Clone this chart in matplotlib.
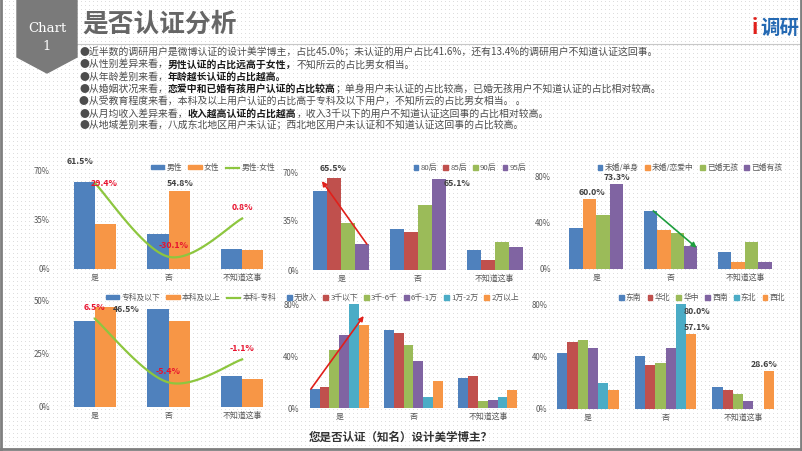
import numpy as np
import matplotlib
matplotlib.use("Agg")
import matplotlib.pyplot as plt
from matplotlib.patches import Patch, Polygon
from matplotlib.lines import Line2D

plt.rcParams['font.family'] = ['Noto Sans CJK SC', 'DejaVu Sans']

W, H = 802, 451
cats = ['是', '否', '不知道这事']

# gender
gender_names = ['男性', '女性', '男性-女性']
male = [61.5, 24.7, 13.8]
female = [32.1, 54.8, 13.1]
gender_diff = [29.4, -30.1, 0.8]

# age
age_names = ['80后', '85后', '90后', '95后']
age_vals = [[56.5, 29.5, 14.0], [65.5, 27.5, 7.0], [33.5, 46.2, 20.3], [18.5, 65.1, 16.4]]

# marriage
marry_names = ['未婚/单身', '未婚/恋爱中', '已婚无孩', '已婚有孩']
marry_vals = [[35.1, 50.0, 14.4], [60.0, 33.3, 6.0], [46.3, 30.7, 23.0], [73.3, 19.8, 6.3]]

# education
edu_names = ['专科及以下', '本科及以上', '本科-专科']
edu_low = [40.0, 45.6, 14.4]
edu_high = [46.5, 40.2, 13.3]
edu_diff = [6.5, -5.4, -1.1]

# income
income_names = ['无收入', '3千以下', '3千-6千', '6千-1万', '1万-2万', '2万以上']
income_vals = [[14.6, 60.2, 22.8], [15.8, 57.9, 24.3], [44.8, 48.2, 5.4],
               [56.4, 36.2, 5.9], [80.0, 8.5, 8.2], [63.8, 20.8, 13.5]]

# region
region_names = ['东南', '华北', '华中', '西南', '东北', '西北']
region_vals = [[42.5, 40.3, 16.6], [51.0, 33.8, 14.3], [52.7, 35.1, 11.5],
               [46.6, 46.4, 6.4], [20.0, 80.0, 0.0], [14.3, 57.1, 28.6]]

bullets = [
    [("●近半数的调研用户是微博认证的设计美学博主，占比45.0%；未认证的用户占比41.6%，还有13.4%的调研用户不知道认证这回事。", False)],
    [("●从性别差异来看，", False), ("男性认证的占比远高于女性，", True), ("不知所云的占比男女相当。", False)],
    [("●从年龄差别来看，", False), ("年龄越长认证的占比越高。", True)],
    [("●从婚姻状况来看，", False), ("恋爱中和已婚有孩用户认证的占比较高", True),
     ("；单身用户未认证的占比较高，已婚无孩用户不知道认证的占比相对较高。", False)],
    [("●从受教育程度来看，本科及以上用户认证的占比高于专科及以下用户，不知所云的占比男女相当。 。", False)],
    [("●从月均收入差异来看，", False), ("收入越高认证的占比越高", True),
     ("，收入3千以下的用户不知道认证这回事的占比相对较高。", False)],
    [("●从地域差别来看，八成东北地区用户未认证；西北地区用户未认证和不知道认证这回事的占比较高。", False)],
]

BLUE, RED, GREEN, PURPLE, AQUA, ORANGE = '#4F81BD', '#C0504D', '#9BBB59', '#8064A2', '#4BACC6', '#F79646'
LINE_GREEN = '#8DC63F'
GRAY = '#595959'

fig = plt.figure(figsize=(W / 100, H / 100), dpi=100)

# dotted background
bg = np.ones((H, W, 3))
bg[1::4, 1::4] = 0.87
fig.figimage(bg, xo=0, yo=0, zorder=-10)


def fx(x):
    return x / W


def fy(y):
    return 1 - y / H


def px_axes(x0, x1, ytop, ybot):
    return fig.add_axes([fx(x0), fy(ybot), (x1 - x0) / W, (ybot - ytop) / H])


def style(ax, ymax, pad):
    ax.set_xlim(-0.5, 2.5)
    ax.set_ylim(0, ymax)
    ticks = [0, ymax / 2, ymax]
    ax.set_yticks(ticks)
    ax.set_yticklabels([f'{t:g}%' for t in ticks])
    ax.set_xticks(range(3))
    ax.set_xticklabels(cats)
    for s in ax.spines.values():
        s.set_visible(False)
    ax.axhline(0, color='#d0d0d0', lw=0.8, zorder=1)
    ax.tick_params(length=0, labelsize=5.7, colors=GRAY)
    ax.tick_params(axis='y', pad=pad)
    ax.tick_params(axis='x', pad=3)
    ax.patch.set_visible(False)


def bars(ax, series, colors, width):
    n = len(series)
    xs = []
    for i, (vals, c) in enumerate(zip(series, colors)):
        x = np.arange(3) + (i - (n - 1) / 2) * width
        ax.bar(x, vals, width, color=c, zorder=2)
        xs.append(x)
    return xs


def lab(ax, x, y, txt, dx, dy, color='#404040'):
    ax.annotate(txt, (x, y), xytext=(dx * 0.72, dy * 0.72), textcoords='offset points',
                ha='center', va='center', fontsize=6.3, fontweight='bold', color=color,
                annotation_clip=False, zorder=5)


def smooth(xs, ys, n=40):
    P = np.column_stack([xs, ys]).astype(float)
    out = []
    for i in range(len(P) - 1):
        p0 = P[i - 1] if i > 0 else P[i]
        p1, p2 = P[i], P[i + 1]
        p3 = P[i + 2] if i + 2 < len(P) else P[i + 1]
        c1 = p1 + (p2 - p0) / 6
        c2 = p2 - (p3 - p1) / 6
        t = np.linspace(0, 1, n)[:, None]
        out.append((1 - t) ** 3 * p1 + 3 * (1 - t) ** 2 * t * c1 + 3 * (1 - t) * t ** 2 * c2 + t ** 3 * p2)
    out = np.vstack(out)
    return out[:, 0], out[:, 1]


def legend(ax, handles, labels, cx, cy, hl, hh):
    ax.legend(handles, labels, ncol=len(labels), loc='center',
              bbox_to_anchor=(fx(cx), fy(cy)), bbox_transform=fig.transFigure,
              frameon=False, fontsize=5.6, handlelength=hl, handleheight=hh,
              handletextpad=0.3, columnspacing=0.8, labelcolor=GRAY, borderaxespad=0)


def arrow(ax, start, end, color):
    ax.annotate('', xy=end, xytext=start,
                arrowprops=dict(arrowstyle='-|>', color=color, lw=1.2, mutation_scale=7,
                                shrinkA=0, shrinkB=0), zorder=6, annotation_clip=False)


# ---------------- chart 1: gender
ax1 = px_axes(58, 279, 170, 269)
style(ax1, 70, 6)
xm, xf = bars(ax1, [male, female], [BLUE, ORANGE], 0.286)
t1 = ax1.twinx()
t1.set_ylim(-40, 40)
t1.axis('off')
sx, sy = smooth(np.arange(3), gender_diff)
t1.plot(sx, sy, color=LINE_GREEN, lw=1.6, zorder=3)
lab(ax1, xm[0], male[0], f'{male[0]:.1f}%', -4, 21)
lab(ax1, xf[1], female[1], f'{female[1]:.1f}%', 1, 8)
for i, (d, dx, dy) in enumerate(zip(gender_diff, [9, 5, 0], [0, 11, 11])):
    lab(t1, i, d, f'{d:.1f}%', dx, dy, '#E8112D')
legend(t1, [Patch(color=BLUE), Patch(color=ORANGE), Line2D([], [], color=LINE_GREEN, lw=1.6)],
       gender_names, 213, 168, 1.7, 0.5)

# ---------------- chart 2: age
ax2 = px_axes(303, 533, 172, 270)
style(ax2, 70, 3)
xa = bars(ax2, age_vals, [BLUE, RED, GREEN, PURPLE], 0.182)
lab(ax2, xa[1][0], age_vals[1][0], f'{age_vals[1][0]:.1f}%', -1, 10)
lab(ax2, xa[3][1], age_vals[3][1], f'{age_vals[3][1]:.1f}%', 18, -5)
arrow(ax2, (xa[3][0] + 0.06, age_vals[3][0]), (xa[0][0] + 0.02, age_vals[1][0] - 2), '#E0201B')
legend(ax2, [Patch(color=c) for c in [BLUE, RED, GREEN, PURPLE]], age_names, 470, 168, 0.6, 0.6)

# ---------------- chart 3: marriage
ax3 = px_axes(559, 782, 176, 269)
style(ax3, 80, 6)
xmr = bars(ax3, marry_vals, [BLUE, ORANGE, GREEN, PURPLE], 0.181)
lab(ax3, xmr[1][0], marry_vals[1][0], f'{marry_vals[1][0]:.1f}%', 2, 7)
lab(ax3, xmr[3][0], marry_vals[3][0], f'{marry_vals[3][0]:.1f}%', 1, 6)
arrow(ax3, (xmr[0][1] + 0.04, marry_vals[0][1]), (xmr[3][1] + 0.08, marry_vals[3][1] - 1.5), '#1E9E3E')
legend(ax3, [Patch(color=c) for c in [BLUE, ORANGE, GREEN, PURPLE]], marry_names, 690, 168, 0.6, 0.6)

# ---------------- chart 4: education
ax4 = px_axes(58, 279, 300, 407)
style(ax4, 50, 6)
xl, xh = bars(ax4, [edu_low, edu_high], [BLUE, ORANGE], 0.286)
t4 = ax4.twinx()
t4.set_ylim(-10, 10)
t4.axis('off')
sx, sy = smooth(np.arange(3), edu_diff)
t4.plot(sx, sy, color=LINE_GREEN, lw=1.6, zorder=3)
lab(ax4, xh[0], edu_high[0], f'{edu_high[0]:.1f}%', 21, -2)
for i, d in enumerate(edu_diff):
    lab(t4, i, d, f'{d:.1f}%', 0, 11, '#E8112D')
legend(t4, [Patch(color=BLUE), Patch(color=ORANGE), Line2D([], [], color=LINE_GREEN, lw=1.6)],
       edu_names, 191, 298, 1.7, 0.5)

# ---------------- chart 5: income
ax5 = px_axes(302, 525, 304, 408)
style(ax5, 80, 2)
xi = bars(ax5, income_vals, [BLUE, RED, GREEN, PURPLE, AQUA, ORANGE], 0.132)
arrow(ax5, (xi[0][0] - 0.05, income_vals[0][0]), (xi[5][0], income_vals[5][0] + 7), '#E0201B')
legend(ax5, [Patch(color=c) for c in [BLUE, RED, GREEN, PURPLE, AQUA, ORANGE]], income_names,
       403, 298, 0.6, 0.6)

# ---------------- chart 6: region
ax6 = px_axes(549, 782, 304, 409)
style(ax6, 80, 1)
xr = bars(ax6, region_vals, [BLUE, RED, GREEN, PURPLE, AQUA, ORANGE], 0.133)
lab(ax6, xr[4][1], region_vals[4][1], f'{region_vals[4][1]:.1f}%', 16, -7)
lab(ax6, xr[5][1], region_vals[5][1], f'{region_vals[5][1]:.1f}%', 6, 7)
lab(ax6, xr[5][2], region_vals[5][2], f'{region_vals[5][2]:.1f}%', -5, 7)
legend(ax6, [Patch(color=c) for c in [BLUE, RED, GREEN, PURPLE, AQUA, ORANGE]], region_names,
       702, 298, 0.6, 0.6)

# ---------------- header
fig.patches.append(Polygon([(fx(17), fy(0)), (fx(77), fy(0)), (fx(77), fy(57)), (fx(47), fy(73)),
                            (fx(17), fy(57))], closed=True, color='#7A7A7A',
                           transform=fig.transFigure, zorder=2))
fig.text(fx(47), fy(28), 'Chart', family='DejaVu Serif', fontsize=9.5, color='white',
         ha='center', va='center')
fig.text(fx(47), fy(46), '1', family='DejaVu Serif', fontsize=9.5, color='white',
         ha='center', va='center')
fig.text(fx(82), fy(24), '是否认证分析', fontsize=18.5, fontweight='bold', color='#666666',
         va='center', ha='left')
fig.add_artist(Line2D([fx(77), fx(800)], [fy(44), fy(44)], color='#c8c8c8', lw=0.8))
fig.text(fx(752), fy(28), 'i', fontsize=15, fontweight='bold', color='#E0201B', va='center')
fig.text(fx(760), fy(28), '调研', fontsize=14, fontweight='bold', color='#2469B3', va='center')

renderer = fig.canvas.get_renderer()
for k, parts in enumerate(bullets):
    x = 79
    y = 52 + k * 12.3
    for txt, bold in parts:
        t = fig.text(fx(x), fy(y), txt, fontsize=7.1, fontweight='bold' if bold else 'normal',
                     color='#1a1a1a' if bold else '#4d4d4d', va='center', ha='left')
        x = t.get_window_extent(renderer=renderer).x1

fig.text(0.5, fy(437), '您是否认证（知名）设计美学博主？', fontsize=8.3, fontweight='bold',
         color='#333333', ha='center', va='center')

# frame
for xs_, ys_ in [([0.001, 0.001], [0, 1]), ([0.999, 0.999], [0, 1]), ([0, 1], [0.004, 0.004])]:
    fig.add_artist(Line2D(xs_, ys_, color='#7F7F7F', lw=2))

fig.savefig('out.png', dpi=100)
